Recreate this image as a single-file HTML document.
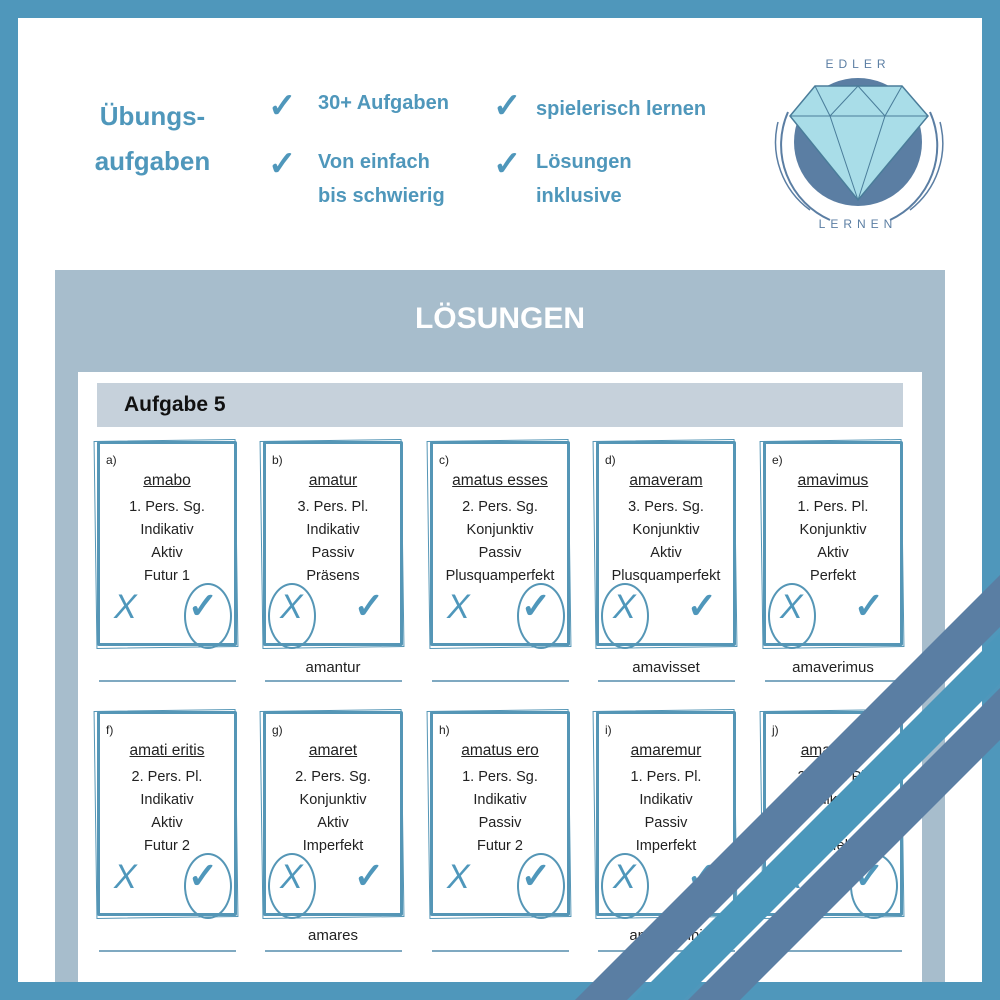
<!DOCTYPE html>
<html><head><meta charset="utf-8"><style>
*{margin:0;padding:0;box-sizing:border-box}
body{width:1000px;height:1000px;position:relative;overflow:hidden;background:#4f97bb;font-family:"Liberation Sans",sans-serif}
.inner{position:absolute;left:18px;top:18px;width:964px;height:964px;background:#fff}
.h{position:absolute;color:#4f97bb;font-weight:bold}
.panel{position:absolute;left:55px;top:270px;width:890px;height:730px;background:#a7bdcc}
.sheet{position:absolute;left:78px;top:372px;width:844px;height:628px;background:#fff}
.bar{position:absolute;left:97px;top:383px;width:806px;height:44px;background:#c6d1db;font-weight:bold;font-size:21px;padding:10px 0 0 27px;color:#111}
.card{position:absolute;width:140px;height:205px;border:3px solid #5596b6;border-radius:2px;text-align:center;color:#222;font-size:14.5px}
.card:before{content:"";position:absolute;left:-5px;top:-4px;right:-3px;bottom:-5px;border:1.5px solid #5596b6;transform:rotate(-0.8deg)}
.card .l{position:absolute;left:6px;top:9px;font-size:12px}
.card .t{margin-top:28px;text-decoration:underline;font-size:15.5px}
.card .r{line-height:23px}
.x{position:absolute;left:14px;bottom:16px;font-size:34px;color:#4f97bb;font-style:italic}
.ck{position:absolute;right:16px;bottom:16px;font-size:36px;color:#4f97bb;font-weight:bold}
.o{position:absolute;width:48px;height:66px;border:2px solid #5596b6;border-radius:50%;bottom:-6px}
.ans{position:absolute;width:140px;text-align:center;font-size:15px;color:#222}
.ln{position:absolute;width:137px;height:2px;background:#7fa9c1}
.cm{font-size:34px!important;font-weight:bold!important}
</style></head><body>
<div class="inner"></div>
<div class="h" style="left:80px;top:94px;width:145px;text-align:center;font-size:26px;line-height:45px">Übungs-<br>aufgaben</div>
<div class="h cm" style="left:268px;top:86px">✓</div>
<div class="h cm" style="left:268px;top:144px">✓</div>
<div class="h cm" style="left:493px;top:86px">✓</div>
<div class="h cm" style="left:493px;top:144px">✓</div>
<div class="h" style="left:318px;top:92px;font-size:20px">30+ Aufgaben</div>
<div class="h" style="left:318px;top:145px;font-size:20px;line-height:34px">Von einfach<br>bis schwierig</div>
<div class="h" style="left:536px;top:98px;font-size:20px">spielerisch lernen</div>
<div class="h" style="left:536px;top:145px;font-size:20px;line-height:34px">Lösungen<br>inklusive</div>
<svg style="position:absolute;left:770px;top:50px" width="180" height="190" viewBox="0 0 180 190">
<circle cx="88" cy="92" r="64" fill="#5b7ea3"/>
<path d="M18 62 A82 82 0 0 0 60 170" fill="none" stroke="#5b7ea3" stroke-width="2"/>
<path d="M8 72 A84 84 0 0 0 40 160" fill="none" stroke="#5b7ea3" stroke-width="1.5"/>
<path d="M160 62 A82 82 0 0 1 120 170" fill="none" stroke="#5b7ea3" stroke-width="2"/>
<path d="M170 72 A84 84 0 0 1 140 160" fill="none" stroke="#5b7ea3" stroke-width="1.5"/>
<polygon points="20,66 45,36 132,36 158,66 88,150" fill="#a9dde8" stroke="#4a7d9a" stroke-width="1.5"/>
<path d="M20 66H158M45 36L60 66L88 150M132 36L115 66L88 150M88 36L60 66M88 36L115 66" stroke="#4a7d9a" fill="none" stroke-width="1"/>
<text x="88" y="18" text-anchor="middle" font-size="12" fill="#5b7ea3" letter-spacing="5">EDLER</text>
<text x="88" y="178" text-anchor="middle" font-size="12" fill="#5b7ea3" letter-spacing="5">LERNEN</text>
</svg>
<div class="panel"></div>
<div class="h" style="left:0;width:1000px;top:302px;text-align:center;color:#fff;font-size:30px">LÖSUNGEN</div>
<div class="sheet"></div>
<div class="bar">Aufgabe 5</div>

<div class="card" style="left:97px;top:441px"><span class="l">a)</span><div class="t">amabo</div><div class="r" style="margin-top:6px">1. Pers. Sg.<br>Indikativ<br>Aktiv<br>Futur 1</div><span class="x">X</span><span class="ck">✓</span><div class="o" style="right:2px"></div></div>
<div class="card" style="left:263px;top:441px"><span class="l">b)</span><div class="t">amatur</div><div class="r" style="margin-top:6px">3. Pers. Pl.<br>Indikativ<br>Passiv<br>Präsens</div><span class="x">X</span><span class="ck">✓</span><div class="o" style="left:2px"></div></div>
<div class="card" style="left:430px;top:441px"><span class="l">c)</span><div class="t">amatus esses</div><div class="r" style="margin-top:6px">2. Pers. Sg.<br>Konjunktiv<br>Passiv<br>Plusquamperfekt</div><span class="x">X</span><span class="ck">✓</span><div class="o" style="right:2px"></div></div>
<div class="card" style="left:596px;top:441px"><span class="l">d)</span><div class="t">amaveram</div><div class="r" style="margin-top:6px">3. Pers. Sg.<br>Konjunktiv<br>Aktiv<br>Plusquamperfekt</div><span class="x">X</span><span class="ck">✓</span><div class="o" style="left:2px"></div></div>
<div class="card" style="left:763px;top:441px"><span class="l">e)</span><div class="t">amavimus</div><div class="r" style="margin-top:6px">1. Pers. Pl.<br>Konjunktiv<br>Aktiv<br>Perfekt</div><span class="x">X</span><span class="ck">✓</span><div class="o" style="left:2px"></div></div>

<div class="ans" style="left:263px;top:659px">amantur</div>
<div class="ans" style="left:596px;top:659px">amavisset</div>
<div class="ans" style="left:763px;top:659px">amaverimus</div>
<div class="ln" style="left:99px;top:680px"></div><div class="ln" style="left:265px;top:680px"></div><div class="ln" style="left:432px;top:680px"></div><div class="ln" style="left:598px;top:680px"></div><div class="ln" style="left:765px;top:680px"></div>

<div class="card" style="left:97px;top:711px"><span class="l">f)</span><div class="t">amati eritis</div><div class="r" style="margin-top:6px">2. Pers. Pl.<br>Indikativ<br>Aktiv<br>Futur 2</div><span class="x">X</span><span class="ck">✓</span><div class="o" style="right:2px"></div></div>
<div class="card" style="left:263px;top:711px"><span class="l">g)</span><div class="t">amaret</div><div class="r" style="margin-top:6px">2. Pers. Sg.<br>Konjunktiv<br>Aktiv<br>Imperfekt</div><span class="x">X</span><span class="ck">✓</span><div class="o" style="left:2px"></div></div>
<div class="card" style="left:430px;top:711px"><span class="l">h)</span><div class="t">amatus ero</div><div class="r" style="margin-top:6px">1. Pers. Sg.<br>Indikativ<br>Passiv<br>Futur 2</div><span class="x">X</span><span class="ck">✓</span><div class="o" style="right:2px"></div></div>
<div class="card" style="left:596px;top:711px"><span class="l">i)</span><div class="t">amaremur</div><div class="r" style="margin-top:6px">1. Pers. Pl.<br>Indikativ<br>Passiv<br>Imperfekt</div><span class="x">X</span><span class="ck">✓</span><div class="o" style="left:2px"></div></div>
<div class="card" style="left:763px;top:711px"><span class="l">j)</span><div class="t">amavistis</div><div class="r" style="margin-top:6px">2. Pers. Pl.<br>Indikativ<br>Aktiv<br>Perfekt</div><span class="x">X</span><span class="ck">✓</span><div class="o" style="right:2px"></div></div>

<div class="ans" style="left:263px;top:927px">amares</div>
<div class="ans" style="left:596px;top:927px">amabamini</div>
<div class="ln" style="left:99px;top:950px"></div><div class="ln" style="left:265px;top:950px"></div><div class="ln" style="left:432px;top:950px"></div><div class="ln" style="left:598px;top:950px"></div><div class="ln" style="left:765px;top:950px"></div>

<div style="position:absolute;left:0;top:982px;width:1000px;height:18px;background:#4f97bb"></div>
<div style="position:absolute;left:982px;top:0;width:18px;height:1000px;background:#4f97bb"></div>
<svg style="position:absolute;left:0;top:0" width="1000" height="1000">
<polygon points="575,1000 1000,575 1000,627 627,1000" fill="#5a7ea3"/>
<polygon points="633,1000 1000,633 1000,683 683,1000" fill="#4b97bb"/>
<polygon points="688,1000 1000,688 1000,740 740,1000" fill="#5a7ea3"/>
</svg>
</body></html>
